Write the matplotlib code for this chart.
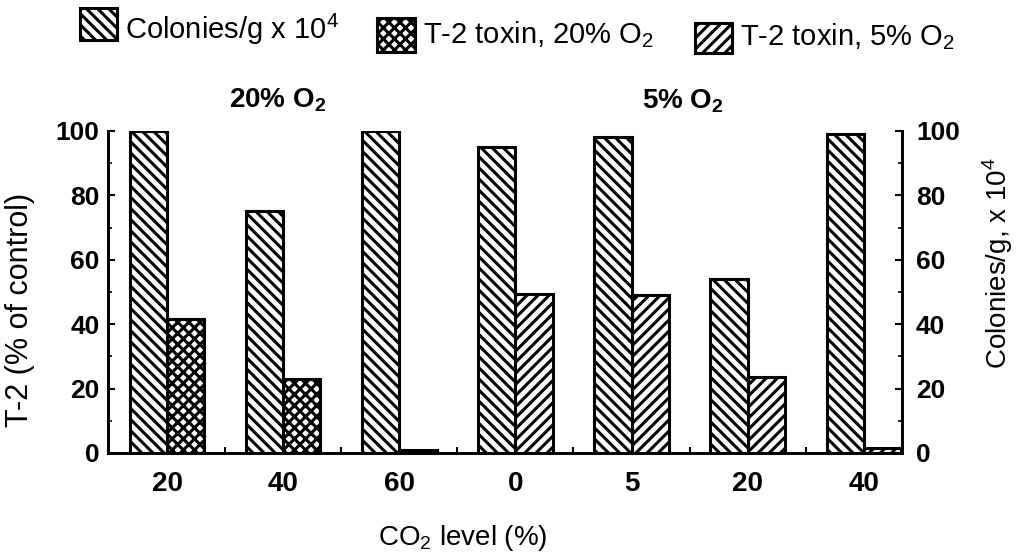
import numpy as np
import matplotlib.pyplot as plt
from matplotlib.patches import Rectangle
from matplotlib.ticker import MultipleLocator, FixedLocator

plt.rcParams['font.family'] = ['Liberation Sans', 'DejaVu Sans']
plt.rcParams['mathtext.fontset'] = 'custom'
plt.rcParams['mathtext.rm'] = 'Liberation Sans'
plt.rcParams['mathtext.bf'] = 'Liberation Sans:bold'
plt.rcParams['hatch.linewidth'] = 2.2

# CO2 levels, grouped by O2 atmosphere
co2_labels = ['20', '40', '60', '0', '5', '20', '40']
colonies = [100, 75, 100, 95, 98, 54, 99]          # colonies/g x 10^4
t2_o2_20 = [41.5, 23, 0.8, None, None, None, None]  # T-2, % of control
t2_o2_5 = [None, None, None, 49.5, 49, 23.5, 1.5]

width = 0.32
x = np.arange(len(co2_labels))

W, H = 1021, 552
fig = plt.figure(figsize=(W / 100, H / 100), dpi=100)
ax = fig.add_axes([108 / W, 1 - 453 / H, (902 - 108) / W, (453 - 131) / H])
ax2 = ax.twinx()

bar_kw = dict(width=width, color='white', edgecolor='black', linewidth=2.2)
ax2.bar(x - width / 2, colonies, hatch='\\\\\\', **bar_kw)
for i in range(len(x)):
    if t2_o2_20[i] is not None:
        ax.bar(x[i] + width / 2, t2_o2_20[i], hatch='xxx', **bar_kw)
    if t2_o2_5[i] is not None:
        ax.bar(x[i] + width / 2, t2_o2_5[i], hatch='///', **bar_kw)

for a in (ax, ax2):
    a.set_ylim(0, 100)
    a.set_xlim(-0.51, 6.33)
    a.spines['top'].set_visible(False)
    for s in ('left', 'right', 'bottom'):
        a.spines[s].set_linewidth(2)
    a.yaxis.set_major_locator(MultipleLocator(20))
    a.yaxis.set_minor_locator(MultipleLocator(10))

ax.tick_params(axis='y', which='major', direction='in', length=5, width=1.5,
               labelsize=19, pad=6)
ax.tick_params(axis='y', which='minor', direction='in', length=3, width=1.2)
ax2.tick_params(axis='y', which='major', direction='in', length=5, width=1.5,
                labelsize=19, pad=10)
ax2.tick_params(axis='y', which='minor', direction='in', length=3, width=1.2)
for lab in ax.get_yticklabels() + ax2.get_yticklabels():
    lab.set_fontweight('bold')

ax.set_xticks(x)
ax.set_xticklabels(co2_labels, fontsize=20, fontweight='bold')
ax.xaxis.set_minor_locator(FixedLocator(x[:-1] + 0.5))
ax.tick_params(axis='x', which='major', length=0, pad=13)
ax.tick_params(axis='x', which='minor', direction='in', length=4, width=1.5)

# axis titles placed in figure pixels
fig.text(20 / W, 1 - 310 / H, 'T-2 (% of control)', fontsize=22,
         rotation=90, ha='center', va='center')
fig.text(998 / W, 1 - 263 / H, r'Colonies/g, x 10$^{\mathregular{4}}$', fontsize=20,
         rotation=90, ha='center', va='center')
fig.text(463 / W, 1 - 545 / H, r'CO$_{\mathregular{2}}$ level (%)', fontsize=20,
         ha='center', va='baseline')

fig.text(278 / W, 1 - 107 / H, r'20% O$_{\mathregular{2}}$', fontsize=20,
         fontweight='bold', ha='center', va='baseline')
fig.text(683 / W, 1 - 108 / H, r'5% O$_{\mathregular{2}}$', fontsize=20,
         fontweight='bold', ha='center', va='baseline')

# legend along the top
legend_items = [
    ((80, 8, 37, 32), '\\\\\\', r'Colonies/g x 10$^{\mathregular{4}}$', 125, 39),
    ((377, 18, 38, 34), 'xxx', r'T-2 toxin, 20% O$_{\mathregular{2}}$', 423, 43),
    ((695, 23, 37, 30), '///', r'T-2 toxin, 5% O$_{\mathregular{2}}$', 740, 45),
]
for (px, py, pw, ph), hatch, label, tx, ty in legend_items:
    fig.patches.append(Rectangle((px / W, 1 - (py + ph) / H), pw / W, ph / H,
                                 transform=fig.transFigure, facecolor='white',
                                 edgecolor='black', linewidth=2.2, hatch=hatch))
    fig.text(tx / W, 1 - ty / H, label, fontsize=21, ha='left', va='baseline')

fig.savefig('out.png', dpi=100)
